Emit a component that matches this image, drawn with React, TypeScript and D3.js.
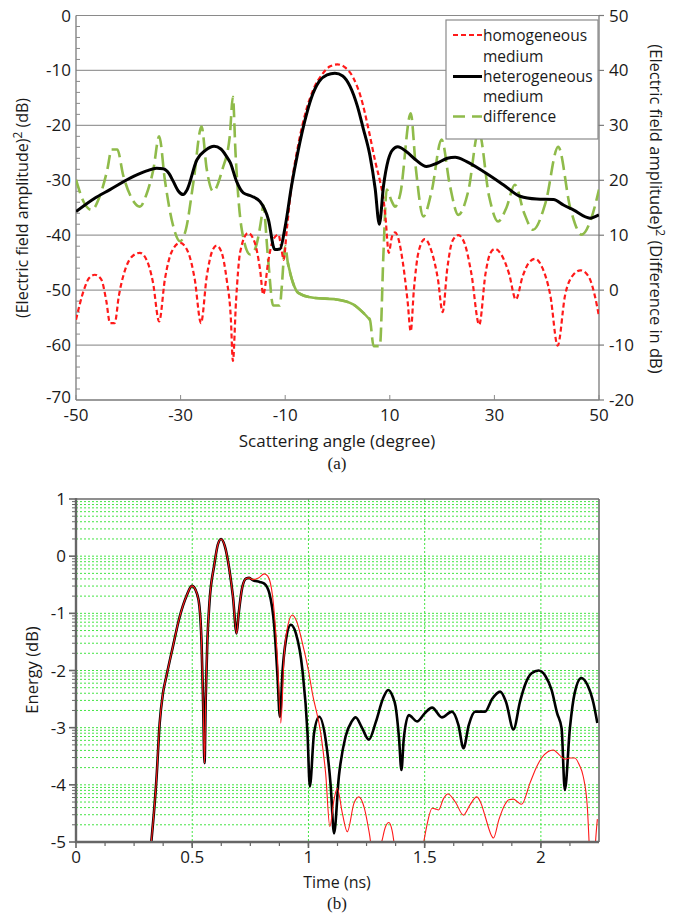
import * as d3 from "d3";

// ---------- (a) scattering pattern ----------
// [angle (deg), level (dB)]
const homogeneous: [number, number][] = [
  [-50, -55.4], [-48.5, -50], [-47.5, -47.8], [-46.4, -47.2], [-45.2, -48], [-44.2, -52],
  [-43.5, -56], [-42.6, -56], [-41.8, -51], [-40.5, -46], [-39.2, -43.8], [-37.8, -43.2],
  [-36.5, -44.5], [-35.3, -48.5], [-34.1, -55.7], [-33, -48], [-31.7, -43], [-30.1, -41.4],
  [-28.6, -43], [-27.3, -48], [-26.1, -56], [-25, -47.5], [-24, -43], [-23.1, -41.9],
  [-22.2, -43], [-21.2, -48], [-20.4, -55], [-20, -62.9], [-19.4, -52], [-18.6, -43],
  [-17.1, -39.6], [-15.8, -41.4], [-14.8, -46.3], [-14.2, -50.8], [-13.2, -44.5],
  [-12.3, -40.8], [-11.3, -39.9], [-10.7, -42.6], [-10.3, -44.5], [-9.7, -39], [-8.8, -31],
  [-7.5, -23.5], [-6, -17.3], [-4.5, -13.2], [-3, -10.8], [-1.5, -9.3], [0, -8.9],
  [1.5, -9.5], [3, -11.3], [4.5, -15], [6, -21], [7.2, -26.5], [8.2, -30.5], [8.8, -33.5],
  [9.2, -37], [9.8, -43.2], [10.4, -40.3], [11, -39.5], [11.6, -40.5], [12.5, -45],
  [13.4, -52], [14, -57.5], [14.6, -50], [15.5, -43], [16.7, -40.7], [18, -43], [19.2, -48],
  [20.1, -54], [21, -46], [22, -41], [23.1, -40], [24.3, -41.5], [25.6, -47], [27.1, -56.3],
  [28.3, -47], [29.2, -43.3], [30.1, -42.5], [31.3, -43.5], [32.8, -47], [34.1, -51.7],
  [35.4, -47.5], [36.6, -45], [37.8, -44.3], [39.2, -46], [40.7, -51], [42.1, -60.1],
  [43.5, -51], [45, -47.3], [46.5, -46.4], [48, -47.5], [49.2, -51], [50, -54.8],
];

const heterogeneous: [number, number][] = [
  [-50, -35.7], [-46.5, -33.3], [-43.5, -31.7], [-39, -29.3], [-36.5, -28.3], [-34.6, -27.8],
  [-33.3, -27.9], [-32.2, -28.8], [-31.4, -30.2], [-30.4, -32], [-29.5, -32.6], [-28.8, -31.8],
  [-26.9, -26.3], [-25.2, -24.5], [-23.6, -23.8], [-22.3, -24.3], [-21.2, -25.7], [-20.5, -26.8],
  [-19.3, -30.2], [-18, -32.3], [-16.4, -32.9], [-14.8, -33.9], [-13.2, -37.2], [-12, -42.6],
  [-11, -42.5], [-10, -38.4], [-8.8, -31.1], [-7.5, -24.5], [-6.2, -19], [-5, -15],
  [-3.5, -12], [-2, -10.8], [-0.5, -10.5], [1, -11], [2.4, -12.9], [3.8, -16.5], [4.9, -20.5],
  [6.2, -25.5], [7.2, -31.5], [8, -38], [8.8, -31], [9.7, -26.3], [10.5, -24.5], [11.5, -23.9],
  [13.2, -24.8], [15, -26.3], [17, -27.5], [19, -26.9], [21, -26], [22.5, -25.8], [24.7, -26.6],
  [27.9, -28.4], [31.7, -30.8], [34.9, -32.9], [38.1, -33.4], [41.3, -33.5], [43.2, -34.5],
  [45.1, -35.4], [48.3, -36.9], [50, -36.3],
];

// right axis (difference in dB)
const difference: [number, number][] = [
  [-50, 20.1], [-48.5, 16], [-47, 14.6], [-45.5, 17], [-44, 22], [-43.2, 25.6], [-42.1, 25.6],
  [-41, 21], [-39.5, 17], [-37.8, 15.2], [-36.5, 17.5], [-35.2, 22], [-34.1, 28], [-33, 20],
  [-31.5, 12], [-30.1, 8.9], [-29, 11], [-27.5, 20], [-26, 29.8], [-25, 22], [-23.8, 18],
  [-22, 22], [-20.6, 28], [-20, 35.2], [-19.5, 25], [-18.3, 11], [-16.7, 6.5], [-15.8, 7.4],
  [-14.5, 13.4], [-14.2, 15.5], [-13.3, 6], [-12.3, -2.8], [-11, -2.8], [-10.7, 0.1],
  [-10, 8], [-9.5, 5], [-8.5, 1.3], [-7.5, -0.5], [-4.6, -1.4], [-0.2, -1.7], [3, -2.6],
  [4.9, -4.1], [6.2, -5.4], [6.9, -10.2], [8.1, -10.2], [8.8, 7], [9.4, 18.3], [10.4, 16.1],
  [11, 15.2], [12, 17.5], [14, 32.2], [15, 22], [16.4, 13.4], [18, 18], [19.9, 27.4],
  [21.5, 19], [23.1, 13.7], [25, 18], [27, 29], [29, 17], [30.7, 12.5], [32.3, 15],
  [33.9, 19.2], [35.7, 14], [37.4, 11], [39.8, 16], [42.2, 26.1], [44.5, 15], [46.7, 10.1],
  [48.5, 13], [50, 18.3],
];

const angleTicks = [-50, -30, -10, 10, 30, 50];
const levelTicks = [0, -10, -20, -30, -40, -50, -60, -70];
const diffTicks = [50, 40, 30, 20, 10, 0, -10, -20];

// ---------- (b) energy vs time ----------
// [time (ns), energy (dB)]
const energyHet: [number, number][] = [
  [0.324, -5], [0.335, -4.5], [0.346, -3.91], [0.36, -2.92], [0.374, -2.4], [0.389, -2.1],
  [0.417, -1.58], [0.446, -1.06], [0.475, -0.7], [0.499, -0.52], [0.52, -0.65], [0.531, -0.88],
  [0.54, -1.5], [0.547, -2.6], [0.553, -3.62], [0.558, -2.5], [0.565, -1.5], [0.574, -0.82],
  [0.595, -0.15], [0.61, 0.2], [0.624, 0.3], [0.64, 0.18], [0.66, -0.24], [0.675, -0.7],
  [0.691, -1.35], [0.7, -1], [0.715, -0.55], [0.732, -0.39], [0.745, -0.38], [0.76, -0.42],
  [0.79, -0.45], [0.81, -0.48], [0.832, -0.65], [0.853, -1.23], [0.867, -2.11], [0.877, -2.81],
  [0.889, -1.99], [0.903, -1.47], [0.924, -1.2], [0.946, -1.35], [0.974, -1.99], [0.996, -3.1],
  [1.006, -4.03], [1.024, -3.1], [1.046, -2.81], [1.074, -3.21], [1.096, -4.03], [1.11, -4.85],
  [1.131, -3.85], [1.16, -3.15], [1.185, -2.9], [1.203, -2.82], [1.23, -3], [1.26, -3.21],
  [1.29, -2.9], [1.32, -2.5], [1.343, -2.34], [1.362, -2.45], [1.375, -2.63], [1.39, -3.2],
  [1.4, -3.74], [1.41, -3.2], [1.432, -2.78], [1.467, -2.89], [1.5, -2.75], [1.532, -2.65],
  [1.574, -2.82], [1.617, -2.72], [1.645, -2.95], [1.667, -3.36], [1.69, -2.95], [1.717, -2.72],
  [1.76, -2.72], [1.79, -2.5], [1.825, -2.37], [1.85, -2.55], [1.882, -3.03], [1.91, -2.55],
  [1.932, -2.25], [1.96, -2.05], [1.99, -2], [2.02, -2.1], [2.046, -2.34], [2.07, -2.75],
  [2.089, -3.01], [2.103, -4.09], [2.125, -3], [2.145, -2.4], [2.174, -2.13], [2.2, -2.25],
  [2.225, -2.55], [2.243, -2.92],
];

const energyHom: [number, number][] = [
  [0.324, -5], [0.335, -4.5], [0.346, -3.91], [0.36, -2.92], [0.374, -2.4], [0.389, -2.1],
  [0.417, -1.58], [0.446, -1.06], [0.475, -0.7], [0.499, -0.52], [0.52, -0.65], [0.531, -0.88],
  [0.54, -1.5], [0.547, -2.6], [0.553, -3.62], [0.558, -2.5], [0.565, -1.5], [0.574, -0.82],
  [0.595, -0.15], [0.61, 0.2], [0.624, 0.3], [0.64, 0.18], [0.66, -0.24], [0.675, -0.7],
  [0.691, -1.35], [0.7, -1], [0.715, -0.55], [0.732, -0.39], [0.745, -0.38], [0.76, -0.41],
  [0.785, -0.38], [0.81, -0.31], [0.825, -0.35], [0.846, -0.71], [0.867, -1.81], [0.881, -2.92],
  [0.896, -1.7], [0.912, -1.2], [0.931, -1.03], [0.95, -1.15], [0.974, -1.52], [1, -2],
  [1.017, -2.4], [1.053, -3.1], [1.074, -3.8], [1.092, -4.73], [1.11, -4.26], [1.124, -4.06],
  [1.146, -4.5], [1.167, -4.82], [1.196, -4.32], [1.217, -4.21], [1.24, -4.4], [1.262, -4.85],
  [1.28, -5.3], [1.315, -5], [1.33, -4.75], [1.346, -4.66], [1.36, -4.8], [1.375, -5.2],
  [1.42, -5.8], [1.47, -5.6], [1.496, -5], [1.51, -4.7], [1.532, -4.41], [1.545, -4.42],
  [1.56, -4.44], [1.58, -4.25], [1.6, -4.16], [1.632, -4.3], [1.667, -4.53], [1.695, -4.35],
  [1.724, -4.21], [1.745, -4.35], [1.76, -4.55], [1.796, -4.93], [1.82, -4.6], [1.846, -4.34],
  [1.862, -4.26], [1.882, -4.25], [1.9, -4.3], [1.917, -4.34], [1.953, -3.97], [1.98, -3.7],
  [2.003, -3.53], [2.03, -3.42], [2.053, -3.39], [2.08, -3.48], [2.103, -3.55], [2.125, -3.53],
  [2.146, -3.53], [2.165, -3.65], [2.182, -3.85], [2.2, -4.4], [2.21, -5.2], [2.225, -5.8],
  [2.235, -5], [2.243, -4.6],
];

const timeTicks = [0, 0.5, 1, 1.5, 2];
const energyTicks = [1, 0, -1, -2, -3, -4, -5];

const FONT = "'Open Sans', sans-serif";
const SERIF = "'Liberation Serif', 'DejaVu Serif', serif";
const TXT = "#1a1a1a";

function TopChart() {
  const x = d3.scaleLinear().domain([-50, 50]).range([76, 599]);
  const yL = d3.scaleLinear().domain([-70, 0]).range([400, 15.5]);
  const yR = d3.scaleLinear().domain([-20, 50]).range([400, 15.5]);

  const lineL = d3.line<[number, number]>().x((d) => x(d[0])).y((d) => yL(d[1])).curve(d3.curveMonotoneX);
  const lineR = d3.line<[number, number]>().x((d) => x(d[0])).y((d) => yR(d[1])).curve(d3.curveMonotoneX);

  // the central part of the difference curve is drawn solid
  const diffSolid = difference.filter((d) => d[0] >= -9.8 && d[0] <= 6.6);
  const minor = d3.range(-68, 0, 2).filter((v) => v % 10 !== 0);

  return (
    <g>
      <defs>
        <clipPath id="clipA">
          <rect x={76} y={15.5} width={523} height={384.5} />
        </clipPath>
      </defs>
      {levelTicks.slice(1, -1).map((v) => (
        <line key={v} x1={76} x2={599} y1={yL(v)} y2={yL(v)} stroke="#9a9a9a" strokeWidth={1.2} />
      ))}
      {/* frame */}
      <line x1={76} x2={599} y1={15.5} y2={15.5} stroke="#8a8a8a" strokeWidth={1.2} />
      <line x1={76} x2={76} y1={15.5} y2={400} stroke="#7a7a7a" strokeWidth={1.3} />
      <line x1={599} x2={599} y1={15.5} y2={400} stroke="#7a7a7a" strokeWidth={1.3} />
      <line x1={76} x2={599} y1={400} y2={400} stroke="#7a7a7a" strokeWidth={1.3} />
      {minor.map((v) => (
        <line key={v} x1={76} x2={80} y1={yL(v)} y2={yL(v)} stroke="#8a8a8a" strokeWidth={1} />
      ))}
      {angleTicks.map((v) => (
        <line key={v} x1={x(v)} x2={x(v)} y1={400} y2={395} stroke="#8a8a8a" strokeWidth={1} />
      ))}
      {diffTicks.map((v) => (
        <line key={v} x1={599} x2={604} y1={yR(v)} y2={yR(v)} stroke="#7a7a7a" strokeWidth={1.2} />
      ))}
      <g clipPath="url(#clipA)" fill="none">
        <path d={lineR(difference) ?? ""} stroke="#8fbb4a" strokeWidth={2.6} strokeDasharray="14,6" />
        <path d={lineR(diffSolid) ?? ""} stroke="#8fbb4a" strokeWidth={2.6} />
        <path d={lineL(homogeneous) ?? ""} stroke="#ff1a1a" strokeWidth={2.2} strokeDasharray="5,3" />
        <path d={lineL(heterogeneous) ?? ""} stroke="#000" strokeWidth={3} />
      </g>
      {/* tick labels */}
      <g fontFamily={FONT} fontSize={17} fill={TXT}>
        {levelTicks.map((v) => (
          <text key={v} x={71} y={yL(v) + (v === -70 ? 3 : 6)} textAnchor="end">{v}</text>
        ))}
        {diffTicks.map((v) => (
          <text key={v} x={609} y={yR(v) + 6}>{v}</text>
        ))}
        {angleTicks.map((v) => (
          <text key={v} x={x(v)} y={421} textAnchor="middle">{v}</text>
        ))}
        <text x={337} y={447} textAnchor="middle" fontSize={17}>Scattering angle (degree)</text>
        <text transform="translate(28,208) rotate(-90)" textAnchor="middle" fontSize={16}>
          (Electric field amplitude)<tspan fontSize={12} dy={-6}>2</tspan><tspan dy={6}> (dB)</tspan>
        </text>
        <text transform="translate(650,209) rotate(90)" textAnchor="middle" fontSize={16.5}>
          (Electric field amplitude)<tspan fontSize={12} dy={-6}>2</tspan><tspan dy={6}> (Difference in dB)</tspan>
        </text>
      </g>
      {/* legend */}
      <g>
        <rect x={446} y={20} width={152} height={119} fill="#fff" stroke="#8a8a8a" strokeWidth={1.2} />
        <line x1={453} x2={482} y1={35} y2={35} stroke="#ff1a1a" strokeWidth={2.2} strokeDasharray="5,3" />
        <line x1={453} x2={482} y1={76.5} y2={76.5} stroke="#000" strokeWidth={3} />
        <line x1={453} x2={482} y1={116.5} y2={116.5} stroke="#8fbb4a" strokeWidth={2.6} strokeDasharray="12,7" />
        <g fontFamily={FONT} fontSize={15.5} fill={TXT}>
          <text x={483} y={41}>homogeneous</text>
          <text x={483} y={62}>medium</text>
          <text x={483} y={82}>heterogeneous</text>
          <text x={483} y={102}>medium</text>
          <text x={483} y={122}>difference</text>
        </g>
      </g>
      <text x={337} y={469} textAnchor="middle" fontFamily={SERIF} fontSize={17} fill={TXT}>(a)</text>
    </g>
  );
}

function BottomChart() {
  const x = d3.scaleLinear().domain([0, 2.25]).range([76, 599]);
  const y = d3.scaleLinear().domain([-5, 1]).range([842, 499]);
  const line = d3.line<[number, number]>().x((d) => x(d[0])).y((d) => y(d[1])).curve(d3.curveMonotoneX);

  const minorY: number[] = [];
  for (let n = -5; n < 1; n++) {
    for (let k = 2; k <= 9; k++) minorY.push(n + Math.log10(k));
  }
  const minorX = d3.range(0.125, 2.25, 0.125);
  const green = "#44e444";

  return (
    <g>
      <defs>
        <clipPath id="clipB">
          <rect x={76} y={499} width={523} height={343} />
        </clipPath>
      </defs>
      <g stroke={green} strokeWidth={1} strokeDasharray="2,2">
        {minorY.map((v, i) => (
          <line key={"m" + i} x1={76} x2={599} y1={y(v)} y2={y(v)} />
        ))}
        {energyTicks.slice(1, -1).map((v) => (
          <line key={v} x1={76} x2={599} y1={y(v)} y2={y(v)} />
        ))}
        {timeTicks.slice(1).map((v) => (
          <line key={v} x1={x(v)} x2={x(v)} y1={499} y2={842} />
        ))}
      </g>
      <g clipPath="url(#clipB)" fill="none">
        <path d={line(energyHet) ?? ""} stroke="#000" strokeWidth={2.6} />
        <path d={line(energyHom) ?? ""} stroke="#ff1a1a" strokeWidth={1.1} />
      </g>
      {/* frame */}
      <line x1={76} x2={599} y1={499} y2={499} stroke="#6a6a6a" strokeWidth={1.6} />
      <line x1={599} x2={599} y1={499} y2={842} stroke="#6a6a6a" strokeWidth={1.6} />
      <line x1={76} x2={76} y1={498} y2={843} stroke="#666" strokeWidth={2.4} />
      <line x1={75} x2={599} y1={842} y2={842} stroke="#666" strokeWidth={2.4} />
      {minorY.map((v, i) => (
        <line key={i} x1={72} x2={76} y1={y(v)} y2={y(v)} stroke="#666" strokeWidth={1} />
      ))}
      {energyTicks.map((v) => (
        <line key={v} x1={69} x2={76} y1={y(v)} y2={y(v)} stroke="#666" strokeWidth={1.6} />
      ))}
      {minorX.map((v) => (
        <line key={v} x1={x(v)} x2={x(v)} y1={842} y2={846} stroke="#666" strokeWidth={1.2} />
      ))}
      {timeTicks.map((v) => (
        <line key={v} x1={x(v)} x2={x(v)} y1={842} y2={848} stroke="#666" strokeWidth={1.6} />
      ))}
      <g fontFamily={FONT} fontSize={17} fill={TXT}>
        {energyTicks.map((v) => (
          <text key={v} x={66} y={y(v) + 6} textAnchor="end">{v}</text>
        ))}
        {timeTicks.map((v) => (
          <text key={v} x={x(v)} y={863} textAnchor="middle">{v}</text>
        ))}
        <text x={337} y={888} textAnchor="middle" fontSize={16}>Time (ns)</text>
        <text transform="translate(38,670) rotate(-90)" textAnchor="middle" fontSize={16.5}>Energy (dB)</text>
      </g>
      <text x={337} y={909} textAnchor="middle" fontFamily={SERIF} fontSize={17} fill={TXT}>(b)</text>
    </g>
  );
}

export default function App() {
  return (
    <svg
      width={675}
      height={915}
      style={{ position: "absolute", left: 0, top: 0, background: "#fff" }}
    >
      <TopChart />
      <BottomChart />
    </svg>
  );
}
